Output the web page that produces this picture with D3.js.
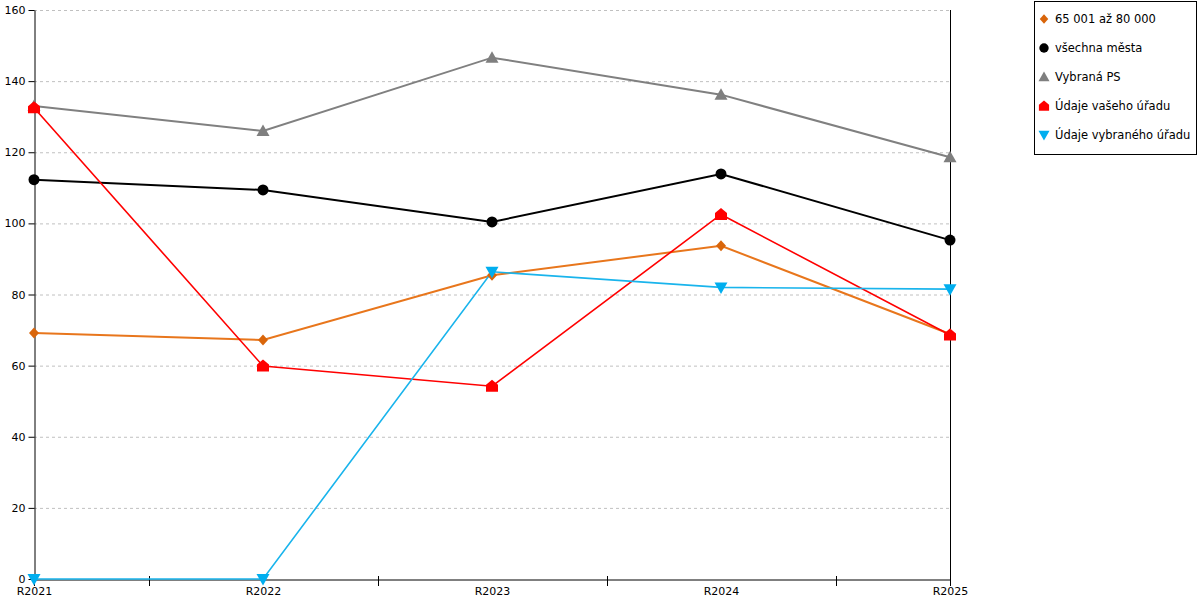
<!DOCTYPE html>
<html><head><meta charset="utf-8">
<script src="https://cdn.jsdelivr.net/npm/d3@7"></script>
<style>body{margin:0;background:#fff}svg{display:block;font-family:"DejaVu Sans",Verdana,sans-serif}</style>
</head><body>
<svg id="c" width="1200" height="600"></svg>
<script>
const categories = ["R2021","R2022","R2023","R2024","R2025"];
const seriesNames = ["65 001 až 80 000","všechna města","Vybraná PS","Údaje vašeho úřadu","Údaje vybraného úřadu"];
const valsOrange = [69.2, 67.2, 85.4, 93.7, 68.9];
const valsBlack  = [112.3, 109.4, 100.4, 113.9, 95.3];
const valsGray   = [133.0, 126.0, 146.6, 136.2, 118.6];
const valsRed    = [132.5, 59.9, 54.2, 102.5, 68.6];
const valsBlue   = [0, 0, 86.4, 82.0, 81.5];
const yTicks = [0,20,40,60,80,100,120,140,160];

const lineColors = ["#E8761C","#000000","#808080","#FF0000","#19B4EC"];
const markColors = ["#D9650A","#000000","#7F7F7F","#FF0000","#00AEEF"];
const lineWidths = [2,2,2,1.6,1.6];
const shapes = ["diamond","circle","up","house","down"];
const allVals = [valsOrange, valsBlack, valsGray, valsRed, valsBlue];

const svg = d3.select("#c");
const x = d3.scalePoint().domain(categories).range([34, 950]);
const y = d3.scaleLinear().domain([0,160]).range([579, 10]);

// grid
svg.append("g").selectAll("line").data(yTicks.filter(d=>d>0)).join("line")
  .attr("x1",34).attr("x2",950).attr("y1",d=>y(d)+0.5).attr("y2",d=>y(d)+0.5)
  .attr("stroke","#c0c0c0").attr("stroke-dasharray","3,3").attr("stroke-width",1);

// y axis
const ya = svg.append("g").attr("transform","translate(34.5,0)")
  .call(d3.axisLeft(y).tickValues(yTicks).tickSize(6).tickSizeOuter(0).tickPadding(3));
ya.selectAll("text").attr("font-size","11px").attr("fill","#000").attr("font-family","DejaVu Sans, Verdana, sans-serif");
ya.select(".domain").attr("stroke","#000");

// x axis
const xa = svg.append("g").attr("transform","translate(0,579.5)")
  .call(d3.axisBottom(x).tickSize(0).tickSizeOuter(0).tickPadding(8));
xa.selectAll("text").attr("font-size","11px").attr("fill","#000").attr("font-family","DejaVu Sans, Verdana, sans-serif");
xa.select(".domain").attr("stroke","#000");
// minor ticks between categories
const mids = categories.slice(1).map((c,i)=> (x(categories[i])+x(c))/2);
svg.append("g").selectAll("line").data(mids).join("line")
  .attr("x1",d=>Math.round(d)+0.5).attr("x2",d=>Math.round(d)+0.5).attr("y1",576).attr("y2",586)
  .attr("stroke","#000");
// right boundary
svg.append("line").attr("x1",950.5).attr("x2",950.5).attr("y1",10).attr("y2",586).attr("stroke","#000");
svg.append("line").attr("x1",34.5).attr("x2",34.5).attr("y1",579).attr("y2",586).attr("stroke","#000");

function markerPath(shape){
  switch(shape){
    case "diamond": return "M0,-5.5L5,0L0,5.5L-5,0Z";
    case "circle": return d3.symbol(d3.symbolCircle, 95)();
    case "up": return "M0,-6.5L6.5,5L-6.5,5Z";
    case "down": return "M0,6.5L6.5,-5L-6.5,-5Z";
    case "house": return "M0,-6.5L6,-1.5L6,5.5L-6,5.5L-6,-1.5Z";
  }
}

const line = d3.line().x((d,i)=>x(categories[i])).y(d=>y(d));
allVals.forEach((vals,k)=>{
  svg.append("path").datum(vals).attr("d",line).attr("fill","none")
    .attr("stroke",lineColors[k]).attr("stroke-width",lineWidths[k]);
});
allVals.forEach((vals,k)=>{
  svg.append("g").selectAll("path").data(vals).join("path")
    .attr("transform",(d,i)=>`translate(${x(categories[i])},${y(d)})`)
    .attr("d",markerPath(shapes[k])).attr("fill",markColors[k]);
});

// legend
const lg = svg.append("g");
lg.append("rect").attr("x",1034.5).attr("y",1.5).attr("width",162).attr("height",153)
  .attr("fill","#fff").attr("stroke","#000");
seriesNames.forEach((n,k)=>{
  const cy = 19 + k*29;
  lg.append("path").attr("transform",`translate(1044,${cy}) scale(0.85)`)
    .attr("d",markerPath(shapes[k])).attr("fill",markColors[k]);
  lg.append("text").attr("x",1055).attr("y",cy).attr("dy","0.35em")
    .attr("font-size","11.5px").text(n);
});
</script>
</body></html>
